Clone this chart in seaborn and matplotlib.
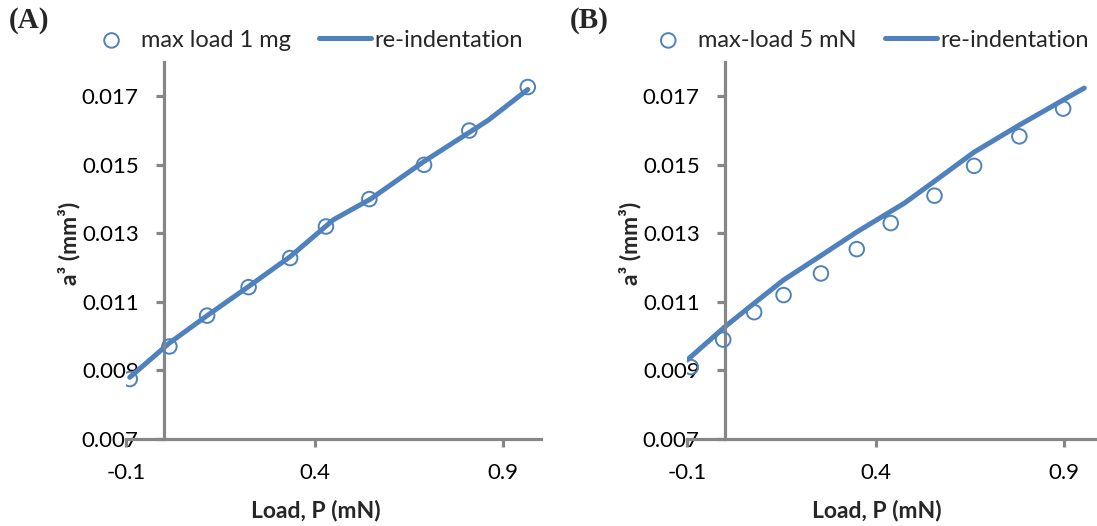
"""Contact radius cubed vs load for two max-load tests with re-indentation."""

import matplotlib

matplotlib.use("Agg")
import matplotlib.pyplot as plt
import pandas as pd
import seaborn as sns

# Panel A: max load 1 mg
load_a = [-0.09, 0.015, 0.115, 0.225, 0.335, 0.43, 0.545, 0.69, 0.81, 0.965]
a3_a = [0.00875, 0.0097, 0.0106, 0.01143, 0.01228, 0.0132, 0.0140, 0.0150, 0.0160, 0.01727]
reind_load_a = [-0.09, 0.015, 0.115, 0.225, 0.335, 0.45, 0.548, 0.69, 0.86, 0.965]
reind_a3_a = [0.0088, 0.0098, 0.0106, 0.01145, 0.01232, 0.0134, 0.0140, 0.0151, 0.0163, 0.0172]

# Panel B: max-load 5 mN
load_b = [-0.09, -0.004, 0.078, 0.156, 0.255, 0.35, 0.44, 0.556, 0.661, 0.781, 0.897]
a3_b = [0.0091, 0.0099, 0.0107, 0.0112, 0.01183, 0.01254, 0.0133, 0.0141, 0.01497, 0.01583, 0.01664]
reind_load_b = [-0.1, 0.0, 0.078, 0.156, 0.255, 0.35, 0.44, 0.476, 0.556, 0.661, 0.781, 0.897, 0.953]
reind_a3_b = [0.0093, 0.01027, 0.01096, 0.01164, 0.01235, 0.01304, 0.01364, 0.01388,
              0.01452, 0.01537, 0.01616, 0.01689, 0.01724]

panels = [
    ("(A)", "max load 1 mg", load_a, a3_a, reind_load_a, reind_a3_a),
    ("(B)", "max-load 5 mN", load_b, a3_b, reind_load_b, reind_a3_b),
]
x_ticks = [-0.1, 0.4, 0.9]
y_ticks = [0.007, 0.009, 0.011, 0.013, 0.015, 0.017]

BLUE = "#4F81BD"
GRAY = "#868686"

sns.set_style("white")
plt.rcParams["font.family"] = ["Lato", "DejaVu Sans"]

fig = plt.figure(figsize=(10.97, 5.26), dpi=100)
axes_lefts = [126 / 1097, 687 / 1097]

for left, (tag, label, xs, ys, lx, ly) in zip(axes_lefts, panels):
    ax = fig.add_axes([left, 87 / 526, 415 / 1097, 377 / 526])
    line_df = pd.DataFrame({"load": lx, "a3": ly})
    pts_df = pd.DataFrame({"load": xs, "a3": ys})

    sns.lineplot(data=line_df, x="load", y="a3", ax=ax, color=BLUE,
                 linewidth=3.6, sort=False, estimator=None, label="re-indentation")
    sns.scatterplot(data=pts_df, x="load", y="a3", ax=ax, s=110, marker="o",
                    facecolors="none", edgecolor=BLUE, linewidth=1.4,
                    label=label, zorder=3)

    ax.set_xlim(-0.1, 1.0)
    ax.set_ylim(0.007, 0.018)
    ax.set_xticks(x_ticks)
    ax.set_xticklabels(["-0.1", "0.4", "0.9"])
    ax.set_yticks(y_ticks)
    ax.set_yticklabels([f"{v:.3f}" for v in y_ticks])

    ax.spines["left"].set_position(("data", 0))
    for side in ("top", "right"):
        ax.spines[side].set_visible(False)
    for side in ("left", "bottom"):
        ax.spines[side].set_color(GRAY)
        ax.spines[side].set_linewidth(2.3)
    ax.tick_params(axis="both", which="major", direction="out", length=6,
                   width=2.3, color=GRAY, labelsize=16, labelcolor="black")
    ax.tick_params(axis="x", pad=11, bottom=True)
    ax.tick_params(axis="y", pad=12, left=True)

    ax.set_xlabel("Load, P (mN)", fontsize=16.5, fontweight="bold")
    ax.set_ylabel("a³ (mm³)", fontsize=16.5, fontweight="bold")
    ax.xaxis.set_label_coords(0.458, -0.162)
    ax.yaxis.set_label_coords(-0.11, 0.52)

    handles, labels = ax.get_legend_handles_labels()
    ax.legend(handles[::-1], labels[::-1], loc="center", bbox_to_anchor=(0.43, 1.058),
              ncol=2, frameon=False, fontsize=17, handlelength=2.2,
              handletextpad=0.15, columnspacing=1.2, borderaxespad=0, borderpad=0)

    fig.text(left - 117 / 1097, 1 - 21 / 526, tag, fontsize=21, fontweight="bold",
             family="Liberation Serif", va="center", ha="left")

fig.savefig("out.png", dpi=100)
